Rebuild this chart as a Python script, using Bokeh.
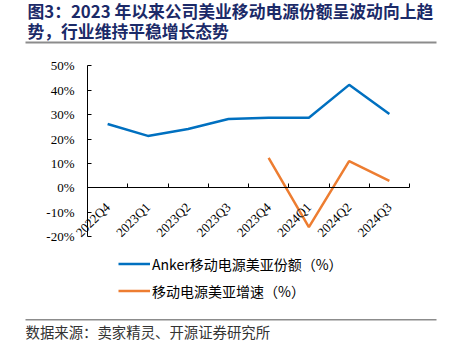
from bokeh.plotting import figure
from bokeh.models import (Range1d, FixedTicker, PrintfTickFormatter,
                          Legend, LegendItem, Label, BoxAnnotation)
from bokeh.embed import file_html
from bokeh.resources import INLINE
import math

quarters = ["2022Q4", "2023Q1", "2023Q2", "2023Q3", "2023Q4", "2024Q1", "2024Q2", "2024Q3"]
anker_share = [26.2, 21.3, 24.1, 28.2, 28.7, 28.7, 42.2, 30.3]
growth_quarters = ["2023Q4", "2024Q1", "2024Q2", "2024Q3"]
growth_rate = [12.3, -16.0, 11.0, 2.9]
y_ticks = [-20, -10, 0, 10, 20, 30, 40, 50]

title_lines = ["图3：2023 年以来公司美业移动电源份额呈波动向上趋", "势，行业维持平稳增长态势"]
legend_labels = ["Anker移动电源美亚份额（%）", "移动电源美亚增速（%）"]
source_text = "数据来源：卖家精灵、开源证券研究所"

BLUE = "#0070C0"
ORANGE = "#ED7D31"
NAVY = "#1B2A68"
RULE = "#8C8C8C"
CJK = "Noto Sans CJK SC"
SERIF = "'Liberation Serif'"

W, H = 452, 352
# category positions (index-based, centred in each slot)
idx = {q: i + 0.5 for i, q in enumerate(quarters)}
x_share = [idx[q] for q in quarters]
x_growth = [idx[q] for q in growth_quarters]
edges = list(range(1, len(quarters) + 1))

# layout of the plot area inside the full-canvas frame
px_x = (409.0 - 87.0) / len(quarters)
x_start = -87.0 / px_x
x_end = (W - 87.0) / px_x
px_y = (236.3 - 65.3) / 70.0
y_end = 50 + 65.3 / px_y
y_start = -20 - (H - 236.3) / px_y

p = figure(width=W, height=H, x_range=Range1d(x_start, x_end), y_range=Range1d(y_start, y_end),
           output_backend="svg", toolbar_location=None,
           min_border_left=0, min_border_right=0, min_border_top=0, min_border_bottom=0)
p.outline_line_color = None
p.grid.visible = False
p.background_fill_color = "white"
p.border_fill_color = "white"

# y axis at left edge of the category range
ya = p.yaxis[0]
ya.fixed_location = 0
ya.ticker = FixedTicker(ticks=y_ticks, minor_ticks=[])
ya.formatter = PrintfTickFormatter(format="%d%%")
ya.bounds = (-20, 50)
ya.major_tick_in = 4
ya.major_tick_out = 0
ya.minor_tick_in = 0
ya.minor_tick_out = 0
ya.major_label_standoff = 13
ya.axis_line_color = "black"
ya.major_tick_line_color = "black"
ya.major_label_text_font = SERIF
ya.major_label_text_font_size = "13px"
ya.major_label_text_color = "black"

# x axis at zero
xa = p.xaxis[0]
xa.fixed_location = 0
xa.ticker = FixedTicker(ticks=x_share, minor_ticks=edges)
xa.major_label_overrides = {x: q for x, q in zip(x_share, quarters)}
xa.bounds = (0, len(quarters))
xa.major_tick_in = 0
xa.major_tick_out = 0
xa.minor_tick_in = 4
xa.minor_tick_out = 0
xa.minor_tick_line_color = "black"
xa.axis_line_color = "black"
xa.major_label_orientation = math.pi / 4
xa.major_label_text_font = SERIF
xa.major_label_text_font_size = "13px"
xa.major_label_text_color = "black"
xa.major_label_standoff = 17

r1 = p.line(x_share, anker_share, line_color=BLUE, line_width=2.5)
r2 = p.line(x_growth, growth_rate, line_color=ORANGE, line_width=2.5)

legend = Legend(items=[LegendItem(label=legend_labels[0], renderers=[r1]),
                       LegendItem(label=legend_labels[1], renderers=[r2])],
                location=(118, H - 304), orientation="vertical")
legend.border_line_alpha = 0
legend.background_fill_alpha = 0
legend.padding = 0
legend.margin = 0
legend.spacing = 0
legend.glyph_width = 32
legend.glyph_height = 27
legend.label_height = 27
legend.label_standoff = 2
legend.label_text_font = CJK
legend.label_text_font_size = "14px"
legend.label_text_color = "black"
p.add_layout(legend)

def sy(canvas_y):
    return H - canvas_y

for i, t in enumerate(title_lines):
    p.add_layout(Label(x=27, y=sy(10 + 20.5 * i), x_units="screen", y_units="screen",
                       text=t, text_font=CJK, text_font_style="bold", text_font_size="16.8px",
                       text_color=NAVY, text_baseline="alphabetic"))
p.add_layout(BoxAnnotation(left=25, right=436, bottom=sy(43), top=sy(41),
                           left_units="screen", right_units="screen",
                           bottom_units="screen", top_units="screen",
                           fill_color=RULE, fill_alpha=1, line_alpha=0))
p.add_layout(BoxAnnotation(left=25, right=436, bottom=sy(320), top=sy(318.5),
                           left_units="screen", right_units="screen",
                           bottom_units="screen", top_units="screen",
                           fill_color=RULE, fill_alpha=1, line_alpha=0))
p.add_layout(Label(x=25, y=sy(331), x_units="screen", y_units="screen",
                   text=source_text, text_font=CJK, text_font_size="14.4px",
                   text_color="#333333", text_baseline="alphabetic"))

open("out.html", "w").write(file_html(p, INLINE))
